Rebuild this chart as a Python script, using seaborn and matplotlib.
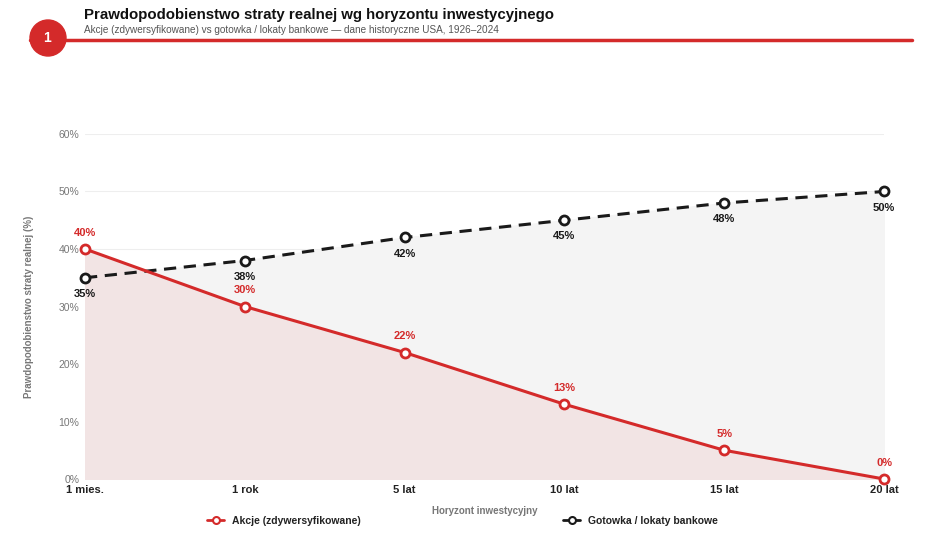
import matplotlib
matplotlib.use("Agg")
import matplotlib.pyplot as plt
import matplotlib.patches as mpatches
from matplotlib.lines import Line2D
import numpy as np
import pandas as pd
import seaborn as sns

horizons = ["1 mies.", "1 rok", "5 lat", "10 lat", "15 lat", "20 lat"]
stocks = [40, 30, 22, 13, 5, 0]
cash = [35, 38, 42, 45, 48, 50]
y_ticks = [0, 10, 20, 30, 40, 50, 60]

RED = "#d42a2a"
BLACK = "#1a1a1a"

sns.set_theme(style="white")
plt.rcParams["font.family"] = ["Liberation Sans", "DejaVu Sans"]

df = pd.DataFrame({"pos": np.arange(len(horizons)), "stocks": stocks, "cash": cash})

fig = plt.figure(figsize=(9.48, 5.39), dpi=100)
ax = fig.add_axes([0.0897, 0.1113, 0.8428, 0.6401])

ax.fill_between(df["pos"], df["cash"], 0, color="#f4f4f4", zorder=1)
ax.fill_between(df["pos"], df["stocks"], 0, color="#f2e4e4", zorder=1.5)

sns.lineplot(data=df, x="pos", y="cash", ax=ax, color=BLACK, linewidth=2.2,
             linestyle=(0, (4, 2.5)), marker="o", markersize=6.5, markerfacecolor="white",
             markeredgecolor=BLACK, markeredgewidth=2, zorder=3, clip_on=False)
sns.lineplot(data=df, x="pos", y="stocks", ax=ax, color=RED, linewidth=2.2,
             marker="o", markersize=6.5, markerfacecolor="white",
             markeredgecolor=RED, markeredgewidth=2, zorder=4, clip_on=False)

for x, v in zip(df["pos"], stocks):
    ax.annotate(f"{v}%", (x, v), xytext=(0, 8), textcoords="offset points",
                ha="center", va="bottom", color=RED, fontsize=8, fontweight="bold", zorder=5)
for x, v in zip(df["pos"], cash):
    ax.annotate(f"{v}%", (x, v), xytext=(0, -8), textcoords="offset points",
                ha="center", va="top", color=BLACK, fontsize=8, fontweight="bold", zorder=5)

ax.set_xlim(0, len(horizons) - 1)
ax.set_ylim(0, 60)
ax.set_yticks(y_ticks)
ax.set_yticklabels([f"{t}%" for t in y_ticks], color="#777777", fontsize=7.5)
ax.set_xticks(df["pos"])
ax.set_xticklabels(horizons, color="#222222", fontsize=8, fontweight="bold")
ax.tick_params(axis="both", length=0, pad=4)
ax.grid(axis="y", color="#eeeeee", linewidth=0.8, zorder=0)
ax.set_axisbelow(True)
for s in ax.spines.values():
    s.set_visible(False)

ax.set_xlabel("Horyzont inwestycyjny", color="#777777", fontsize=7, fontweight="bold", labelpad=8)
ax.set_ylabel("Prawdopodobienstwo straty realnej (%)", color="#777777", fontsize=7,
              fontweight="bold", labelpad=18)

# header
fig.add_artist(Line2D([30 / 948, 912 / 948], [1 - 40 / 539, 1 - 40 / 539],
                      color=RED, linewidth=2.5, transform=fig.transFigure))
fig.add_artist(mpatches.Ellipse((48 / 948, 1 - 38 / 539), 36 / 948, 36 / 539,
                                color=RED, transform=fig.transFigure, zorder=5))
fig.text(47 / 948, 1 - 38 / 539, "1", color="white", fontsize=10, fontweight="bold",
         ha="center", va="center", zorder=6)
fig.text(84 / 948, 1 - 15 / 539, "Prawdopodobienstwo straty realnej wg horyzontu inwestycyjnego",
         fontsize=10.8, fontweight="bold", color="#111111", ha="left", va="center")
fig.text(84 / 948, 1 - 30 / 539,
         "Akcje (zdywersyfikowane) vs gotowka / lokaty bankowe \u2014 dane historyczne USA, 1926\u20132024",
         fontsize=7.2, color="#555555", ha="left", va="center")

# legend
h1 = Line2D([], [], color=RED, linewidth=2, marker="o", markersize=5,
            markerfacecolor="white", markeredgecolor=RED, markeredgewidth=1.5)
h2 = Line2D([], [], color=BLACK, linewidth=2, marker="o", markersize=5,
            markerfacecolor="white", markeredgecolor=BLACK, markeredgewidth=1.5)
fig.legend([h1], ["Akcje (zdywersyfikowane)"], loc="center left",
           bbox_to_anchor=(198 / 948, 1 - 521 / 539), frameon=False, handlelength=1.6,
           prop={"size": 7.5, "weight": "bold"}, labelcolor="#222222")
fig.legend([h2], ["Gotowka / lokaty bankowe"], loc="center left",
           bbox_to_anchor=(554 / 948, 1 - 521 / 539), frameon=False, handlelength=1.6,
           prop={"size": 7.5, "weight": "bold"}, labelcolor="#222222")

fig.savefig("out.png", dpi=100)
